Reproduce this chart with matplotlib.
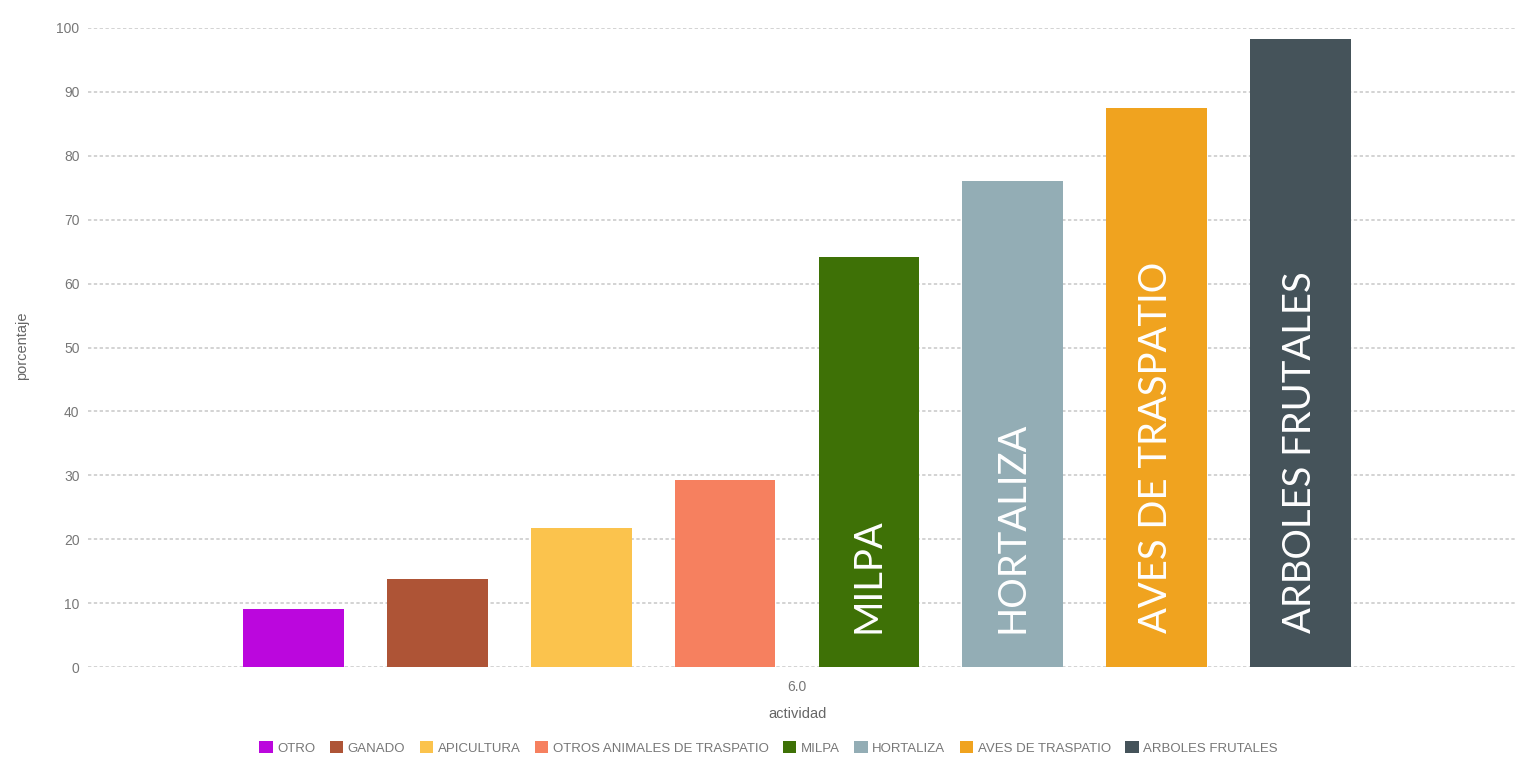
import matplotlib
matplotlib.use('Agg')
import matplotlib.pyplot as plt
import numpy
from matplotlib.patches import Patch

categories = ['OTRO', 'GANADO', 'APICULTURA', 'OTROS ANIMALES DE TRASPATIO',
              'MILPA', 'HORTALIZA', 'AVES DE TRASPATIO', 'ARBOLES FRUTALES']
values = [9.1, 13.8, 21.8, 29.3, 64.2, 76.1, 87.5, 98.3]
colors = ['#bb07dd', '#ae5436', '#fbc34d', '#f6805f',
          '#3e7106', '#93adb5', '#f0a31f', '#45535a']
inside_labels = [False, False, False, False, True, True, True, True]
group_label = '6.0'

plt.rcParams['font.family'] = ['Liberation Sans', 'DejaVu Sans']

fig = plt.figure(figsize=(15.16, 7.69), dpi=100)
ax = fig.add_axes([0.058, 0.1326, 0.942, 0.831])

n = len(values)
xpos = numpy.arange(n) - (n - 1) / 2.0
ax.bar(xpos, values, width=0.7, color=colors, zorder=3)

# big white labels inside the tall bars
for x, v, lab, inside in zip(xpos, values, categories, inside_labels):
    if inside:
        ax.text(x, 5.4, lab, rotation=90, ha='center', va='bottom',
                color='white', fontsize=27.5, family=['Lato', 'DejaVu Sans'], zorder=4)

ax.set_xlim(-4.93, 5.0)
ax.set_ylim(0, 100)
ax.set_yticks(numpy.arange(0, 101, 10))
ax.set_xticks([0])
ax.set_xticklabels([group_label])
ax.tick_params(axis='both', length=0, labelsize=10, colors='#777777')
ax.tick_params(axis='y', pad=6)
ax.tick_params(axis='x', pad=9)
ax.grid(axis='y', color='#cccccc', linestyle=(0, (2, 1.5)), linewidth=1.2, zorder=0)
for s in ax.spines.values():
    s.set_visible(False)

fig.text(0.5258, 1 - 714 / 769, 'actividad', ha='center', va='center',
         fontsize=10.5, color='#666666')
fig.text(0.0145, 1 - 346 / 769, 'porcentaje', ha='center', va='center',
         rotation=90, fontsize=10.5, color='#666666')

handles = [Patch(facecolor=c, edgecolor='none') for c in colors]
fig.legend(handles, categories, loc='center', bbox_to_anchor=(0.507, 1 - 748 / 769),
           ncol=n, frameon=False, fontsize=9.5, labelcolor='#777777',
           handlelength=1.0, handleheight=1.0, handletextpad=0.35, columnspacing=1.1)

fig.savefig('out.png', dpi=100)
